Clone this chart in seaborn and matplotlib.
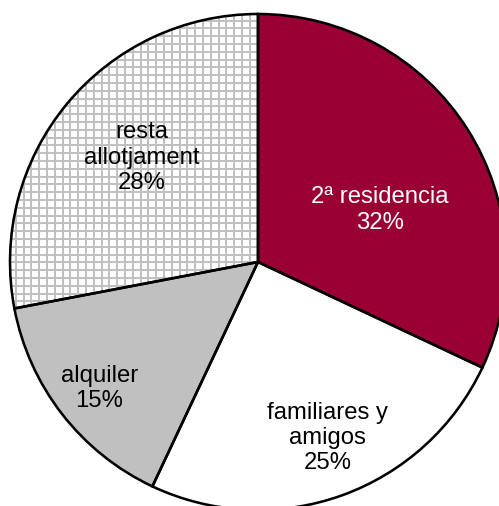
import numpy as np
import seaborn as sns
import matplotlib.pyplot as plt
from matplotlib.collections import LineCollection

# Slice data (clockwise from 12 o'clock)
labels = ["2ª residencia", "familiares y\namigos", "alquiler", "resta\nallotjament"]
shares = [32, 25, 15, 28]
colors = ["#990033", "#ffffff", "#c0c0c0", "#ffffff"]
text_colors = ["white", "black", "black", "black"]
# label anchor points in pie units (radius = 1)
label_xy = [(0.49, 0.21), (0.28, -0.71), (-0.64, -0.51), (-0.47, 0.42)]

sns.set_theme(style="white")
plt.rcParams['font.family'] = ['Liberation Sans', 'DejaVu Sans']

dpi = 84
fig = plt.figure(figsize=(499 / dpi, 506 / dpi), dpi=dpi)
ax = fig.add_axes([0, 0, 1, 1])

wedges, _ = ax.pie(shares, colors=colors, startangle=90, counterclock=False,
                   wedgeprops=dict(linewidth=0))

# square grid pattern inside the last slice
step = 7.8 / 248
offs = np.arange(-1.2, 1.2, step) + 0.003
segs = [[(v, -1.2), (v, 1.2)] for v in offs] + [[(-1.2, v), (1.2, v)] for v in offs]
grid = LineCollection(segs, colors='#c0c0c0', linewidths=1.7, zorder=1.5)
ax.add_collection(grid)
grid.set_clip_path(wedges[3])

# black outlines on top
ax.pie(shares, startangle=90, counterclock=False,
       wedgeprops=dict(fill=False, edgecolor='black', linewidth=2.2, zorder=3))

for lab, val, tc, (x, y) in zip(labels, shares, text_colors, label_xy):
    ax.text(x, y, f"{lab}\n{val}%", ha='center', va='center', color=tc,
            fontsize=20.5, linespacing=1.2, zorder=4)

ax.set_xlim(-258 / 248, (499 - 258) / 248)
ax.set_ylim(-244 / 248, 262 / 248)
ax.set_aspect('equal')
ax.axis('off')

fig.savefig("out.png", dpi=dpi)
